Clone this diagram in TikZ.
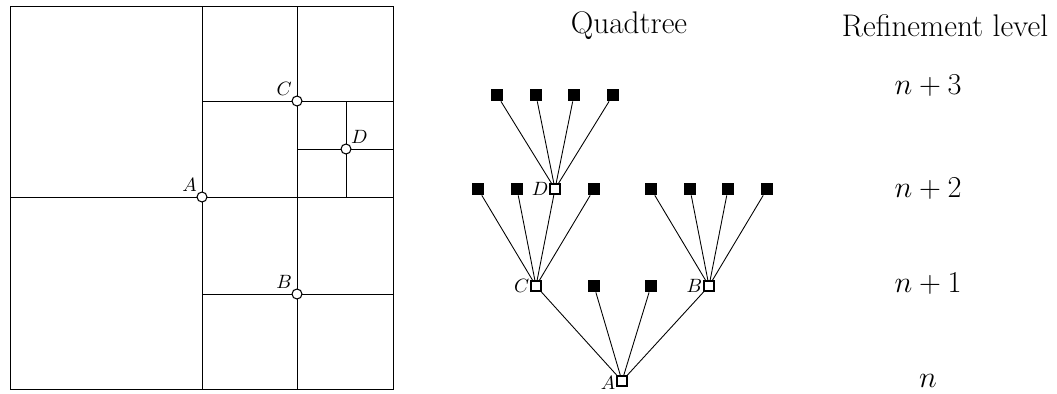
\documentclass[tikz,border=0pt]{standalone}
\begin{document}
\begin{tikzpicture}[x=0.02cm,y=-0.02cm,
  grid/.style={line width=0.5pt},
  pt/.style={circle,draw,fill=white,line width=0.6pt,inner sep=0pt,minimum size=0.2cm},
  ptlabel/.style={font=\fontsize{11}{13}\selectfont,inner sep=0.5pt},
  cell/.style={rectangle,draw,fill=white,line width=0.6pt,inner sep=0pt,minimum size=0.2cm},
  leaf/.style={rectangle,fill=black,inner sep=0pt,minimum size=0.24cm},
  edge/.style={line width=0.5pt},
  head/.style={font=\fontsize{17.8}{21}\selectfont},
  lvl/.style={font=\fontsize{16}{19}\selectfont}]
\useasboundingbox (0,0) rectangle (1057,393);

% --- refined mesh ---
\draw[grid] (10,6) rectangle (393,389);
\draw[grid] (202,6) -- (202,389);
\draw[grid] (10,197) -- (393,197);
\draw[grid] (297,6) -- (297,389);
\draw[grid] (202,101) -- (393,101);
\draw[grid] (202,294) -- (393,294);
\draw[grid] (346,101) -- (346,197);
\draw[grid] (297,149) -- (393,149);

\node[pt] (mA) at (202,197) {};
\node[pt] (mB) at (297,294) {};
\node[pt] (mC) at (297,101) {};
\node[pt] (mD) at (346,149) {};
\node[ptlabel,anchor=south east] at (mA.north west) {$A$};
\node[ptlabel,anchor=south east] at (mB.north west) {$B$};
\node[ptlabel,anchor=south east] at (mC.north west) {$C$};
\node[ptlabel,anchor=south west] at (mD.north east) {$D$};

% --- quadtree ---
\node[head] (qt) at (629,26) {Quadtree};
\node[head] (rl) at (945,26) {Refinement level};

\node[cell] (A) at (622,381) {};
\node[cell] (C) at (536,286) {};
\node[cell] (B) at (709,286) {};
\node[cell] (D) at (555,189) {};
\node[leaf] (a2) at (594,286) {};
\node[leaf] (a3) at (651,286) {};
\node[leaf] (c1) at (478,189) {};
\node[leaf] (c2) at (517,189) {};
\node[leaf] (c4) at (594,189) {};
\node[leaf] (b1) at (651,189) {};
\node[leaf] (b2) at (690,189) {};
\node[leaf] (b3) at (728,189) {};
\node[leaf] (b4) at (767,189) {};
\node[leaf] (d1) at (497,95) {};
\node[leaf] (d2) at (536,95) {};
\node[leaf] (d3) at (574,95) {};
\node[leaf] (d4) at (613,95) {};

\foreach \c in {C,a2,a3,B} \draw[edge] (A) -- (\c);
\foreach \c in {c1,c2,D,c4} \draw[edge] (C) -- (\c);
\foreach \c in {b1,b2,b3,b4} \draw[edge] (B) -- (\c);
\foreach \c in {d1,d2,d3,d4} \draw[edge] (D) -- (\c);

\node[ptlabel,anchor=east] at ([yshift=-1.2pt]A.west) {$A$};
\node[ptlabel,anchor=east] at (B.west) {$B$};
\node[ptlabel,anchor=east] at (C.west) {$C$};
\node[ptlabel,anchor=east] at (D.west) {$D$};

% --- refinement levels ---
\node[lvl] (l3) at (928,86) {$n+3$};
\node[lvl] (l2) at (928,189) {$n+2$};
\node[lvl] (l1) at (928,284) {$n+1$};
\node[lvl] (l0) at (928,381) {$n$};
\end{tikzpicture}
\end{document}
